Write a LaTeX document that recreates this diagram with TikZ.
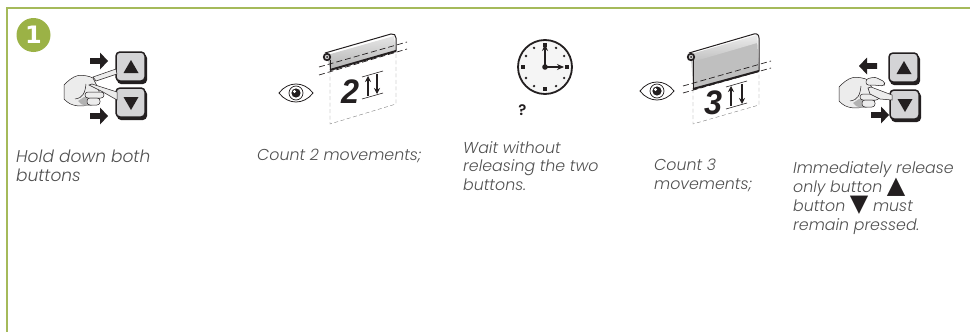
\documentclass[tikz,border=0pt]{standalone}
\usepackage{fontspec}
\setmainfont{Poppins Light}
\newfontfamily\symfont{DejaVu Sans}
\newfontfamily\digitfont{Liberation Sans}
\usetikzlibrary{arrows.meta, positioning, calc}

\definecolor{leaf}{RGB}{165,186,90}
\definecolor{badgeleaf}{RGB}{155,178,70}
\definecolor{keygray}{RGB}{212,212,214}
\definecolor{skin}{RGB}{236,236,236}
\definecolor{captiongray}{RGB}{80,80,80}
\definecolor{arrowblack}{RGB}{35,31,32}

\newcommand{\upmark}{\smash{\textcolor{arrowblack}{\symfont\fontsize{24}{24}\selectfont\raisebox{-1.5pt}{▲}}}}
\newcommand{\downmark}{\smash{\textcolor{arrowblack}{\symfont\fontsize{24}{24}\selectfont\raisebox{-.5pt}{▼}}}}

\begin{document}
\begin{tikzpicture}[
    x=1pt, y=-1pt,
    >=Stealth,
    caption/.style={anchor=north west, inner sep=0pt, align=left, text=captiongray,
      font=\fontsize{15.8}{18.9}\selectfont\itshape},
    keybox/.style={draw=arrowblack, line width=1.5pt, rounded corners=4pt, fill=keygray},
    keyshadow/.style={fill=arrowblack, rounded corners=4pt},
    solidblack/.style={fill=arrowblack, draw=none},
    blockarrow/.pic={
      \fill[arrowblack] (-9,-2.8) -- (1,-2.8) -- (1,-8.5) -- (9,0) -- (1,8.5) -- (1,2.8) -- (-9,2.8) -- cycle;
    },
    keyup/.pic={
      \fill[keyshadow] (-14,-13) rectangle (16,17);
      \draw[keybox] (-15,-15) rectangle (14,14);
      \fill[solidblack] (0,-7) -- (7.5,6) -- (-7.5,6) -- cycle;
    },
    keydown/.pic={
      \fill[keyshadow] (-14,-13) rectangle (16,17);
      \draw[keybox] (-15,-15) rectangle (14,14);
      \fill[solidblack] (0,7) -- (7.5,-6) -- (-7.5,-6) -- cycle;
    },
    palm/.pic={
      % back of the hand, origin at its left edge
      \draw[fill=skin, line width=.5pt, draw=arrowblack]
        (0,1) .. controls (4,-3) and (8,-7) .. (14,-8.5)
        .. controls (20,-9) and (25,-8) .. (29,-6)
        -- (33,2) -- (36,10) .. controls (36,17) and (32,21) .. (27,21)
        .. controls (18,22) and (8,24) .. (0,15) -- cycle;
      \fill[gray!60] (14,17) .. controls (18,22) and (23,23) .. (29,21) -- (29,14) -- (20,13) -- cycle;
      \draw[line width=.5pt, draw=arrowblack] (11,15) .. controls (19,14) and (21,9) .. (22,0);
      \draw[fill=skin, line width=.5pt, draw=arrowblack, rounded corners=3pt]
        (21,8) -- (40,8) -- (40,14) -- (21,14) -- cycle;
      \draw[fill=skin, line width=.5pt, draw=arrowblack, rounded corners=3pt]
        (23,14) -- (36,14) -- (36,21) -- (23,21) -- cycle;
    },
    roller/.pic={
      \fill[arrowblack] (0,0) circle (4.2);
      \fill[gray!40] (0,0) circle (2.2);
      \fill[arrowblack] (0,0) circle (1);
    },
    eyeicon/.pic={
      \draw[line width=.8pt, draw=arrowblack, fill=white]
        (-17,0) .. controls (-8,-12) and (8,-12) .. (17,0)
        .. controls (8,12) and (-8,12) .. (-17,0) -- cycle;
      \draw[line width=.7pt, draw=arrowblack] (0,0) circle (7);
      \fill[arrowblack] (0,0) circle (4.6);
      \fill[white] (-1.5,-1.5) circle (1.6);
    },
    dashline/.style={dash pattern=on 6pt off 3pt, line width=.7pt, draw=arrowblack},
    sheetline/.style={dash pattern=on 4pt off 2.5pt, line width=.4pt, draw=gray},
    movearrow/.style={-{Stealth[length=6pt,width=6pt]}, line width=1.4pt, draw=arrowblack},
    limit/.style={line width=.6pt, draw=arrowblack},
    bignum/.style={inner sep=0pt, text=arrowblack, xscale=.95, transform shape,
      font=\digitfont\fontsize{34}{34}\selectfont\bfseries\itshape}
  ]
  \useasboundingbox (0,0) rectangle (970,332);

  % Frame
  \draw[leaf, line width=1.8pt] (970,7.7) -- (6.8,7.7) -- (6.8,332);
  \node[circle, fill=badgeleaf, minimum size=34pt, inner sep=0pt, text=white,
    font=\symfont\fontsize{24}{24}\selectfont\bfseries] (badge) at (33.5,35) {1};

  % Step 1: both buttons
  \pic at (131,67) {keyup};
  \pic at (131,103) {keydown};
  \pic at (99,61) {blockarrow};
  \pic at (99,116) {blockarrow};
  \pic at (64,84) {palm};
  \draw[fill=skin, line width=.5pt, draw=arrowblack] (93,77) -- (116,69) -- (117,74) -- (96,81) -- cycle;
  \draw[fill=skin, line width=.5pt, draw=arrowblack] (89,85) -- (92,84) -- (117,92) -- (117,100) -- (103,92) -- cycle;

  % Step 2: first blind
  \shade[top color=gray!20, bottom color=gray!60] (327,55) -- (394,36) -- (396,51) -- (330,70) -- cycle;
  \draw[line width=1pt, draw=arrowblack] (325,53) -- (391,34) .. controls (394,33.5) and (396,35) .. (396,38) -- (396,51);
  \draw[line width=.7pt, draw=arrowblack] (330,60) -- (330,70);
  \draw[line width=2pt, draw=arrowblack] (330,70) -- (396,51);
  \pic at (327,57) {roller};
  \draw[sheetline] (330,70) -- (330,124) -- (396,104) -- (396,51);
  \draw[dashline] (319,67) -- (407,42);
  \draw[dashline] (319,75) -- (407,49);
  \node[bignum] (numtwo) at (350,92) {2};
  \draw[limit] (362,77) -- (383,71);
  \draw[limit] (362,99) -- (383,93);
  \draw[movearrow] (368,96) -- (368,76);
  \draw[movearrow] (377,74) -- (377,94);
  \pic at (296,93) {eyeicon};

  % Step 3: clock
  \draw[line width=1.8pt, draw=arrowblack, fill=gray!8] (545,67) circle (27);
  \foreach \a in {30,60,120,150,210,240,300,330}
    \fill[arrowblack] (545,67) ++(\a:22) circle (1.3);
  \foreach \a in {0,90,180,270}
    \fill[arrowblack] (545,67) ++(\a:22) ++(-1.7,-1.7) rectangle ++(3.4,3.4);
  \draw[line width=2pt, draw=arrowblack, -{Stealth[length=7pt,width=6pt]}] (545,67) -- (545,44);
  \draw[line width=1.4pt, draw=arrowblack, -{Stealth[length=7pt,width=6pt]}] (545,67) -- (564,67);
  \fill[arrowblack] (545,67) circle (2.8);
  \node[inner sep=0pt, text=arrowblack, font=\fontsize{15}{15}\selectfont\bfseries] (waitmark) at (522.5,110.5) {?};

  % Step 4: second blind
  \fill[gray!50] (691,55) -- (757,36) -- (759,71) -- (693,89) -- cycle;
  \shade[top color=gray!15, bottom color=gray!50] (691,54) -- (757,35) -- (757,43) -- (692,62) -- cycle;
  \draw[line width=1pt, draw=arrowblack] (689,53) -- (754,34) .. controls (757,33) and (759,35) .. (759,38) -- (759,71);
  \draw[line width=.7pt, draw=arrowblack] (693,60) -- (693,89);
  \draw[line width=2pt, draw=arrowblack] (693,89) -- (759,71);
  \pic at (691,57) {roller};
  \draw[sheetline] (693,89) -- (693,124) -- (759,105) -- (759,71);
  \draw[dashline] (683,86) -- (771,61);
  \draw[dashline] (683,93) -- (771,68);
  \node[bignum] (numthree) at (713,103) {3};
  \draw[limit] (726,87) -- (747,81);
  \draw[limit] (726,109) -- (747,103);
  \draw[movearrow] (731,106) -- (731,86);
  \draw[movearrow] (742,84) -- (742,104);
  \pic at (657,91) {eyeicon};

  % Step 5: release the upper button
  \pic at (904,68) {keyup};
  \pic at (905,105) {keydown};
  \pic[rotate=180] at (868,66) {blockarrow};
  \pic at (880,115) {blockarrow};
  \pic at (839,86) {palm};
  \draw[fill=skin, line width=.5pt, draw=arrowblack, rounded corners=2.5pt] (866,79) -- (875,77) -- (885,82) -- (884,86) -- (873,85) -- (866,85) -- cycle;
  \draw[fill=skin, line width=.5pt, draw=arrowblack] (868,88) -- (871,87) -- (892,95) -- (892,100) -- (880,99) -- (870,94) -- cycle;

  % Captions
  \node[caption, font=\fontsize{17}{18.9}\selectfont\itshape] (holdtext) at (16,150) {Hold down both\\buttons};
  \node[caption] (counttwo) at (257,149) {Count 2 movements;};
  \node[caption] (waittext) at (463,141) {Wait without\\releasing the two\\buttons.};
  \node[caption] (countthree) at (654,158.5) {Count 3\\movements;};
  \node[caption] (releasetext) at (793,161.5) {Immediately release\\only button \upmark\\button \downmark{} must\\remain pressed.};
\end{tikzpicture}
\end{document}
